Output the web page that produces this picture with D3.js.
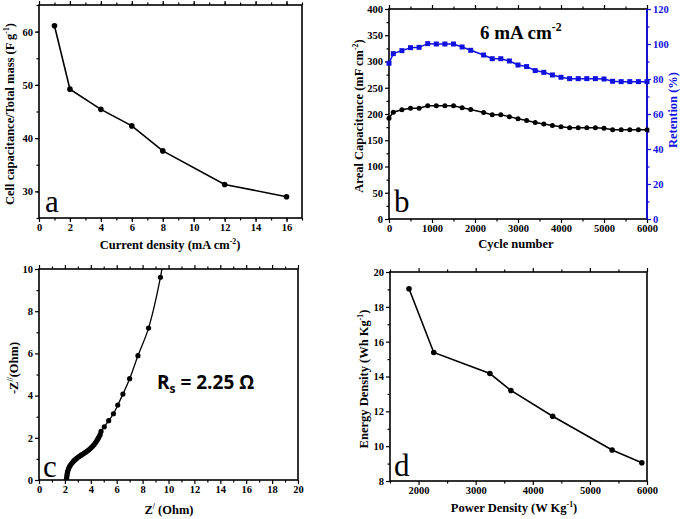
<!DOCTYPE html>
<html>
<head>
<meta charset="utf-8">
<script src="https://cdn.jsdelivr.net/npm/d3@7"></script>
<style>
  body { margin: 0; background: #fff; }
  svg { display: block; }
  .tick text { font-family: 'Liberation Serif', 'Times New Roman', serif; font-weight: bold; font-size: 10.5px; }
</style>
</head>
<body>
<div id="chart"></div>
<script>
// panel a: cell capacitance vs current density
var rateCurrent = [1, 2, 4, 6, 8, 12, 16];
var rateCapacitance = [61.1, 49.2, 45.4, 42.3, 37.6, 31.3, 29.0];

// panel b: cycling at 6 mA cm-2
var cycles = [0, 100, 300, 500, 700, 900, 1100, 1300, 1500, 1700, 1900, 2200, 2400, 2600, 2800,
  3000, 3200, 3400, 3600, 3800, 4000, 4200, 4400, 4600, 4800, 5000, 5200, 5400, 5600, 5800, 6000];
var arealCap = [192, 203.5, 208, 211, 211, 215.5, 215.5, 215.5, 215.5, 212, 208.5, 203, 198.5, 198.5, 195,
  191, 187.6, 184, 181, 178, 175.6, 173.7, 173.7, 173.7, 173.7, 173, 170, 170, 170, 170, 170];
var retention = [89.0, 94.5, 96.2, 97.9, 98.1, 100.2, 100, 100, 100, 98.3, 96.4, 93.7, 91.6, 91.6, 90.3,
  88.0, 87.1, 84.8, 83.8, 82.3, 81.0, 80.2, 80.2, 80.2, 80.2, 80.0, 78.7, 78.5, 78.5, 78.5, 78.5];

// panel c: Nyquist plot
var zReal = [2.12, 2.13, 2.15, 2.17, 2.2, 2.24, 2.29, 2.35, 2.42, 2.5, 2.58, 2.67, 2.76, 2.86, 2.96,
  3.06, 3.17, 3.28, 3.39, 3.5, 3.61, 3.72, 3.83, 3.94, 4.04, 4.14, 4.24, 4.33, 4.42, 4.5, 4.58,
  4.65, 4.72, 4.79, 5.04, 5.38, 5.75, 6.08, 6.48, 7.0, 7.64, 8.46, 9.38, 9.56];
var zImag = [0.0, 0.08, 0.17, 0.27, 0.37, 0.46, 0.55, 0.63, 0.7, 0.77, 0.83, 0.89, 0.95, 1.0, 1.05,
  1.1, 1.14, 1.19, 1.23, 1.28, 1.32, 1.37, 1.42, 1.48, 1.54, 1.6, 1.67, 1.74, 1.82, 1.9, 1.98,
  2.06, 2.15, 2.3, 2.52, 2.81, 3.14, 3.55, 4.07, 4.8, 5.89, 7.2, 9.61, 10.3];

// panel d: Ragone plot
var powerDensity = [1833, 2266, 3249, 3617, 4348, 5389, 5909];
var energyDensity = [19.04, 15.38, 14.17, 13.2, 11.72, 9.78, 9.05];

var serif = "'Liberation Serif', 'Times New Roman', serif";
var blue = "#1010e0";

var svg = d3.select("#chart")
  .append("svg")
  .attr("width", 685)
  .attr("height", 519);

svg.append("rect").attr("width", 685).attr("height", 519).attr("fill", "#fff");

// draws the ticks for one axis: major with labels, minor without
function ticks(g, axisFn, scale, major, minor, labels, pos) {
  var maj = g.append("g").attr("transform", pos)
    .call(axisFn(scale).tickValues(major).tickSize(4).tickSizeOuter(0).tickPadding(2)
      .tickFormat(labels ? d3.format("d") : ""));
  var mnr = g.append("g").attr("transform", pos)
    .call(axisFn(scale).tickValues(minor).tickSize(2.5).tickSizeOuter(0).tickFormat(""));
  [maj, mnr].forEach(function(a) {
    a.select(".domain").remove();
    a.selectAll("line").attr("stroke-width", 1.2);
  });
  return maj;
}

function frame(g, x, y) {
  g.append("rect")
    .attr("x", x.range()[0])
    .attr("y", y.range()[1])
    .attr("width", x.range()[1] - x.range()[0])
    .attr("height", y.range()[0] - y.range()[1])
    .attr("fill", "none")
    .attr("stroke", "#000")
    .attr("stroke-width", 1.6);
}

function steps(a, b, s) { return d3.range(a, b + s / 2, s); }

// text with a superscript piece: parts = [[text, isSup], ...]
function richText(g, parts, size) {
  var t = g.append("text")
    .attr("text-anchor", "middle")
    .style("font-family", serif)
    .style("font-weight", "bold")
    .style("font-size", size + "px");
  parts.forEach(function(p) {
    var s = t.append("tspan").text(p[0]);
    if (p[1]) s.attr("dy", -size * 0.4).style("font-size", (size * 0.62) + "px");
    else if (p[2]) s.attr("dy", size * 0.4);
  });
  return t;
}

function panelLetter(txt, px, py) {
  svg.append("text")
    .attr("x", px).attr("y", py)
    .style("font-family", serif)
    .style("font-size", "31px")
    .text(txt);
}

// ---------- panel a ----------
var xA = d3.scaleLinear().domain([0, 17]).range([39, 302]);
var yA = d3.scaleLinear().domain([25, 65]).range([218, 5]);
var gA = svg.append("g");
ticks(gA, d3.axisBottom, xA, steps(0, 16, 2), steps(1, 17, 1), true, "translate(0," + 218 + ")");
ticks(gA, d3.axisTop, xA, steps(0, 16, 2), steps(1, 17, 1), false, "translate(0," + 5 + ")");
ticks(gA, d3.axisLeft, yA, steps(30, 60, 10), steps(25, 65, 5), true, "translate(39,0)");
frame(gA, xA, yA);

gA.append("path")
  .datum(rateCurrent.map(function(d, i) { return [d, rateCapacitance[i]]; }))
  .attr("fill", "none").attr("stroke", "#000").attr("stroke-width", 1.6)
  .attr("d", d3.line().x(function(d) { return xA(d[0]); }).y(function(d) { return yA(d[1]); }));
gA.selectAll("circle.pa").data(rateCurrent).enter().append("circle")
  .attr("cx", function(d) { return xA(d); })
  .attr("cy", function(d, i) { return yA(rateCapacitance[i]); })
  .attr("r", 2.8);

richText(gA, [["Current density (mA cm"], ["-2", true], [")", false, true]], 12.5)
  .attr("x", 170).attr("y", 249);
richText(gA, [["Cell capacitance/Total mass (F g"], ["-1", true], [")", false, true]], 12.5)
  .attr("transform", "translate(14,114) rotate(-90)");
panelLetter("a", 45, 212);

// ---------- panel b ----------
var xB = d3.scaleLinear().domain([0, 6000]).range([389, 647]);
var yB = d3.scaleLinear().domain([0, 400]).range([219, 9]);
var yR = d3.scaleLinear().domain([0, 120]).range([219, 9]);
var gB = svg.append("g");
ticks(gB, d3.axisBottom, xB, steps(0, 6000, 1000), steps(500, 5500, 1000), true, "translate(0,219)");
ticks(gB, d3.axisTop, xB, steps(0, 6000, 1000), steps(500, 5500, 1000), false, "translate(0,9)");
ticks(gB, d3.axisLeft, yB, steps(0, 400, 50), steps(25, 375, 50), true, "translate(389,0)");
var rAx = ticks(gB, d3.axisRight, yR, steps(0, 120, 20), steps(10, 110, 20), true, "translate(647,0)");
gB.selectAll("g").filter(function() { return d3.select(this).attr("transform") === "translate(647,0)"; })
  .selectAll("line").attr("stroke", blue);
rAx.selectAll("text").attr("fill", blue);
frame(gB, xB, yB);
gB.append("line")
  .attr("x1", 647).attr("x2", 647).attr("y1", 9).attr("y2", 219)
  .attr("stroke", blue).attr("stroke-width", 1.8);

gB.append("path")
  .datum(cycles.map(function(d, i) { return [d, arealCap[i]]; }))
  .attr("fill", "none").attr("stroke", "#000").attr("stroke-width", 1.5)
  .attr("d", d3.line().x(function(d) { return xB(d[0]); }).y(function(d) { return yB(d[1]); }));
gB.selectAll("circle.pb").data(cycles).enter().append("circle")
  .attr("cx", function(d) { return xB(d); })
  .attr("cy", function(d, i) { return yB(arealCap[i]); })
  .attr("r", 2.5);

gB.append("path")
  .datum(cycles.map(function(d, i) { return [d, retention[i]]; }))
  .attr("fill", "none").attr("stroke", blue).attr("stroke-width", 1.5)
  .attr("d", d3.line().x(function(d) { return xB(d[0]); }).y(function(d) { return yR(d[1]); }));
gB.selectAll("rect.sq").data(cycles).enter().append("rect")
  .attr("x", function(d) { return xB(d) - 2.5; })
  .attr("y", function(d, i) { return yR(retention[i]) - 2.5; })
  .attr("width", 5).attr("height", 5)
  .attr("fill", blue);

richText(gB, [["Cycle number"]], 12.5).attr("x", 516).attr("y", 248);
richText(gB, [["Areal Capacitance (mF cm"], ["-2", true], [")", false, true]], 12.5)
  .attr("transform", "translate(363,116) rotate(-90)");
richText(gB, [["Retention (%)"]], 12.5)
  .attr("transform", "translate(677,110) rotate(-90)")
  .attr("fill", blue);
richText(gB, [["6 mA cm"], ["-2", true]], 19)
  .attr("text-anchor", "start")
  .attr("x", 480).attr("y", 39);
panelLetter("b", 394, 212);

// ---------- panel c ----------
var xC = d3.scaleLinear().domain([0, 20]).range([39, 298]);
var yC = d3.scaleLinear().domain([0, 10]).range([480, 269]);
var gC = svg.append("g");
ticks(gC, d3.axisBottom, xC, steps(0, 20, 2), steps(1, 19, 2), true, "translate(0,480)");
ticks(gC, d3.axisTop, xC, steps(0, 20, 2), steps(1, 19, 2), false, "translate(0,269)");
ticks(gC, d3.axisLeft, yC, steps(0, 10, 2), steps(1, 9, 2), true, "translate(39,0)");

svg.append("clipPath").attr("id", "clipC").append("rect")
  .attr("x", 39).attr("y", 269).attr("width", 259).attr("height", 211);
var plotC = gC.append("g").attr("clip-path", "url(#clipC)");
plotC.append("path")
  .datum(zReal.map(function(d, i) { return [d, zImag[i]]; }))
  .attr("fill", "none").attr("stroke", "#000").attr("stroke-width", 1.3)
  .attr("d", d3.line().curve(d3.curveCatmullRom)
    .x(function(d) { return xC(d[0]); }).y(function(d) { return yC(d[1]); }));
plotC.selectAll("circle.pc").data(zReal).enter().append("circle")
  .attr("cx", function(d) { return xC(d); })
  .attr("cy", function(d, i) { return yC(zImag[i]); })
  .attr("r", 2.6);
frame(gC, xC, yC);

richText(gC, [["Z"], ["/", true], [" (Ohm)", false, true]], 12.5).attr("x", 169).attr("y", 514);
richText(gC, [["-Z"], ["//", true], ["(Ohm)", false, true]], 12.5)
  .attr("transform", "translate(18,368) rotate(-90)");
var rs = gC.append("text")
  .attr("x", 157).attr("y", 389)
  .style("font-family", "'Open Sans', sans-serif")
  .style("font-weight", "bold")
  .style("font-size", "19px");
rs.append("tspan").text("R");
rs.append("tspan").text("s").attr("dy", 4).style("font-size", "12px");
rs.append("tspan").text(" = 2.25 \u03A9").attr("dy", -4);
panelLetter("c", 43, 477);

// ---------- panel d ----------
var xD = d3.scaleLinear().domain([1500, 6000]).range([390, 647]);
var yD = d3.scaleLinear().domain([8, 20]).range([481, 272]);
var gD = svg.append("g");
ticks(gD, d3.axisBottom, xD, steps(2000, 6000, 1000), steps(1500, 5500, 1000), true, "translate(0,481)");
ticks(gD, d3.axisTop, xD, steps(2000, 6000, 1000), steps(1500, 5500, 1000), false, "translate(0,272)");
ticks(gD, d3.axisLeft, yD, steps(8, 20, 2), steps(9, 19, 2), true, "translate(390,0)");
frame(gD, xD, yD);

gD.append("path")
  .datum(powerDensity.map(function(d, i) { return [d, energyDensity[i]]; }))
  .attr("fill", "none").attr("stroke", "#000").attr("stroke-width", 1.6)
  .attr("d", d3.line().x(function(d) { return xD(d[0]); }).y(function(d) { return yD(d[1]); }));
gD.selectAll("circle.pd").data(powerDensity).enter().append("circle")
  .attr("cx", function(d) { return xD(d); })
  .attr("cy", function(d, i) { return yD(energyDensity[i]); })
  .attr("r", 2.8);

richText(gD, [["Power Density (W Kg"], ["-1", true], [")", false, true]], 12.5).attr("x", 514).attr("y", 512);
richText(gD, [["Energy Density (Wh Kg"], ["-1", true], [")", false, true]], 12.5)
  .attr("transform", "translate(368,379) rotate(-90)");
panelLetter("d", 394, 476);
</script>
</body>
</html>
